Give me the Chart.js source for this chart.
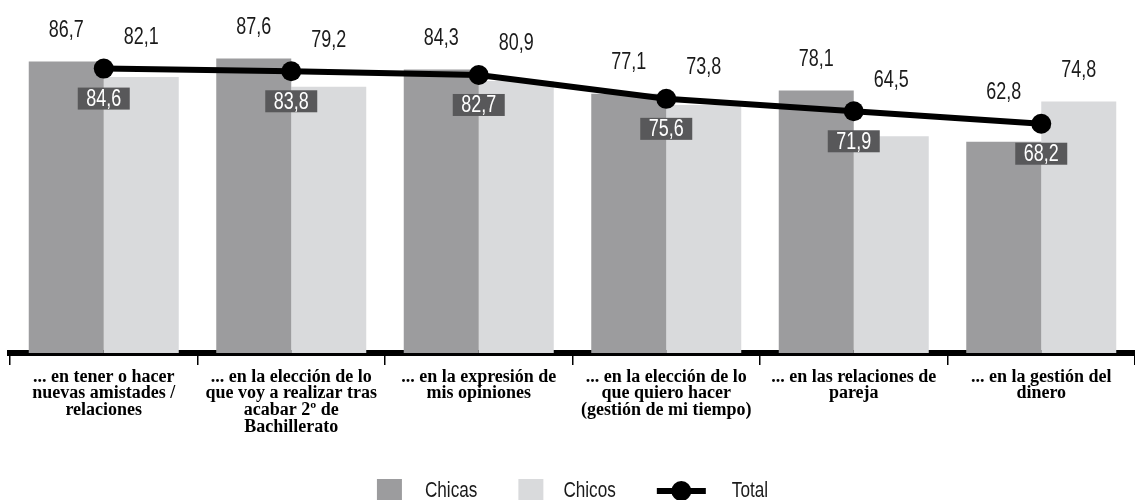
<!DOCTYPE html>
<html lang="es">
<head>
<meta charset="utf-8">
<script src="https://cdn.jsdelivr.net/npm/chart.js@4.4.1/dist/chart.umd.min.js"></script>
<style>
  html, body { margin: 0; padding: 0; background: #fff; }
  #grafico { display: block; }
</style>
</head>
<body>
<canvas id="grafico" width="1135" height="500"></canvas>
<script>
// Datos
const categorias = [
    ['... en tener o hacer', 'nuevas amistades /', 'relaciones'],
    ['... en la elección de lo', 'que voy a realizar tras', 'acabar 2º de', 'Bachillerato'],
    ['... en la expresión de', 'mis opiniones'],
    ['... en la elección de lo', 'que quiero hacer', '(gestión de mi tiempo)'],
    ['... en las relaciones de', 'pareja'],
    ['... en la gestión del', 'dinero']
];
const chicas = [86.7, 87.6, 84.3, 77.1, 78.1, 62.8];
const chicos = [82.1, 79.2, 80.9, 73.8, 64.5, 74.8];
const total = [84.6, 83.8, 82.7, 75.6, 71.9, 68.2];
const series = ['Chicas', 'Chicos', 'Total'];

const FUENTE = "'Liberation Sans', Arial, sans-serif";
const ESTRECHO = 0.78; // la fuente original es condensada
const colores = { chicas: '#9c9c9e', chicos: '#d9dadc', total: '#000000', caja: '#58585a' };

const fmt = v => v.toFixed(1).replace('.', ',');

// texto "condensado": se escala en horizontal
function textoEstrecho(ctx, txt, x, y) {
    ctx.save();
    ctx.translate(x, y);
    ctx.scale(ESTRECHO, 1);
    ctx.fillText(txt, 0, 0);
    ctx.restore();
}

// Etiquetas de valores sobre las barras y cajas del total
const etiquetas = {
    id: 'etiquetas',
    afterDatasetsDraw(chart) {
        const ctx = chart.ctx;
        const linea = chart.getDatasetMeta(2).data;
        ctx.save();
        ctx.font = '23px ' + FUENTE;
        ctx.textAlign = 'center';
        ctx.textBaseline = 'middle';
        [0, 1].forEach(d => {
            chart.getDatasetMeta(d).data.forEach((barra, i) => {
                const y = Math.min(barra.y, linea[i].y) - 31;
                ctx.fillStyle = '#1a1a1a';
                textoEstrecho(ctx, fmt(chart.data.datasets[d].data[i]), barra.x, y);
            });
        });
        linea.forEach((p, i) => {
            const w = 52, h = 22, top = p.y + 19;
            ctx.fillStyle = colores.caja;
            ctx.fillRect(p.x - w / 2, top, w, h);
            ctx.fillStyle = '#ffffff';
            textoEstrecho(ctx, fmt(total[i]), p.x, top + h / 2 + 1);
        });
        ctx.restore();
    }
};

// Leyenda dibujada a mano (la del total lleva línea + punto)
const leyenda = {
    id: 'leyenda',
    afterDraw(chart) {
        const ctx = chart.ctx;
        ctx.save();
        ctx.font = '22px ' + FUENTE;
        ctx.textBaseline = 'middle';
        ctx.textAlign = 'left';
        const yc = 491;
        const items = [
            { texto: series[0], ancho: 25, gap: 23 },
            { texto: series[1], ancho: 25, gap: 20 },
            { texto: series[2], ancho: 49, gap: 26 }
        ];
        const sep = 41;
        let anchoTotal = 0;
        items.forEach((it, i) => {
            it.tw = ctx.measureText(it.texto).width * ESTRECHO;
            anchoTotal += it.ancho + it.gap + it.tw + (i < items.length - 1 ? sep : 0);
        });
        let x = chart.width / 2 - anchoTotal / 2 + 5;
        items.forEach((it, i) => {
            if (i === 0) { ctx.fillStyle = colores.chicas; ctx.fillRect(x, yc - 12, 25, 21); }
            if (i === 1) { ctx.fillStyle = colores.chicos; ctx.fillRect(x, yc - 12, 25, 21); }
            if (i === 2) {
                ctx.strokeStyle = colores.total;
                ctx.lineWidth = 6;
                ctx.beginPath(); ctx.moveTo(x, yc); ctx.lineTo(x + it.ancho, yc); ctx.stroke();
                ctx.fillStyle = colores.total;
                ctx.beginPath(); ctx.arc(x + it.ancho / 2, yc, 10, 0, Math.PI * 2); ctx.fill();
            }
            ctx.fillStyle = '#1a1a1a';
            textoEstrecho(ctx, it.texto, x + it.ancho + it.gap, yc);
            x += it.ancho + it.gap + it.tw + sep;
        });
        ctx.restore();
    }
};

new Chart(document.getElementById('grafico'), {
    type: 'bar',
    data: {
        labels: categorias,
        datasets: [
            { label: series[0], data: chicas, backgroundColor: colores.chicas, barPercentage: 1, categoryPercentage: 0.8, order: 2 },
            { label: series[1], data: chicos, backgroundColor: colores.chicos, barPercentage: 1, categoryPercentage: 0.8, order: 2 },
            {
                type: 'line', label: series[2], data: total,
                borderColor: colores.total, borderWidth: 6, tension: 0,
                pointRadius: 10, pointBackgroundColor: colores.total, pointBorderWidth: 0,
                order: 1
            }
        ]
    },
    options: {
        responsive: false,
        animation: false,
        devicePixelRatio: 1,
        layout: { autoPadding: false, padding: { left: 10, right: 0, top: 0, bottom: 0 } },
        plugins: { legend: { display: false }, tooltip: { enabled: false } },
        scales: {
            y: { display: false, min: 0, max: 105 },
            x: {
                offset: true,
                grid: { offset: true, drawOnChartArea: false, drawTicks: true, tickLength: 12, color: '#000', lineWidth: 1.5 },
                border: { display: true, color: '#000', width: 6 },
                ticks: {
                    autoSkip: false, maxRotation: 0, minRotation: 0, padding: 4, color: '#000',
                    font: { family: "'Liberation Serif', 'DejaVu Serif', serif", weight: 'bold', size: 18, lineHeight: 0.92 }
                },
                afterFit: s => { s.height = 147; s.paddingLeft = 0; s.paddingRight = 0; }
            }
        }
    },
    plugins: [etiquetas, leyenda]
});
</script>
</body>
</html>
